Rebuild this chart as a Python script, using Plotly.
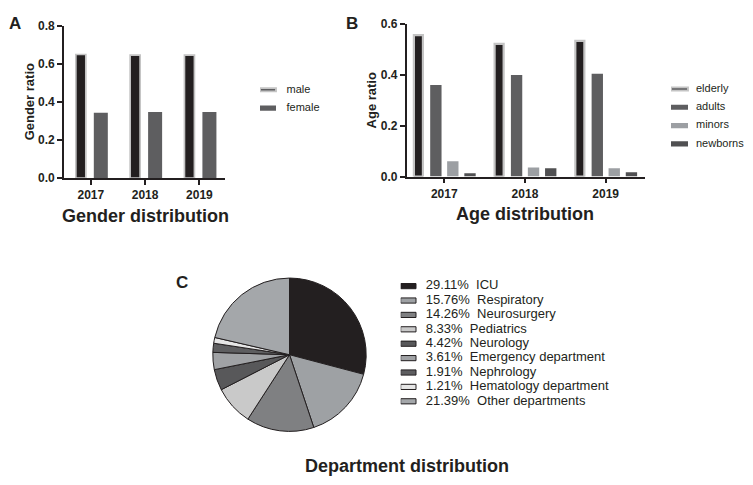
import plotly.graph_objects as go

# ---------------- data ----------------
years = ["2017", "2018", "2019"]
male = [0.650, 0.647, 0.647]
female = [0.344, 0.348, 0.348]

elderly = [0.556, 0.522, 0.534]
adults = [0.360, 0.399, 0.404]
minors = [0.060, 0.035, 0.033]
newborns = [0.013, 0.033, 0.017]

gender_names = ["male", "female"]
age_names = ["elderly", "adults", "minors", "newborns"]

departments = ["ICU", "Respiratory", "Neurosurgery", "Pediatrics", "Neurology",
               "Emergency department", "Nephrology", "Hematology department",
               "Other departments"]
dept_pct = [29.11, 15.76, 14.26, 8.33, 4.42, 3.61, 1.91, 1.21, 21.39]
dept_colors = ["#231f20", "#9ea1a4", "#7f8082", "#c9c9c9", "#58585a",
               "#a0a2a5", "#5e5e60", "#e6e6e6", "#a4a7aa"]

# ---------------- style ----------------
# page is 753x485 but the html body has an 8px margin -> visible figure area is smaller
PAGE_OFF = 8
W, H = 737, 477
FONT = "Liberation Sans, Arial, sans-serif"
INK = "#231f20"
DARK = "#231f20"
OUTL = "#c4c4c4"
MID = "#5e5e60"
LIGHT = "#9c9fa3"
NEWB = "#505052"


def px_x(v):
    return (v - PAGE_OFF) / W


def px_y(v):
    return (H - (v - PAGE_OFF)) / H


fig = go.Figure()

# ---------------- panel A ----------------
fig.add_trace(go.Bar(x=years, y=male, xaxis="x", yaxis="y", width=0.184, offset=-0.276,
                     marker=dict(color=DARK, line=dict(color=OUTL, width=1.7)),
                     showlegend=False, hoverinfo="skip"))
fig.add_trace(go.Bar(x=years, y=female, xaxis="x", yaxis="y", width=0.258, offset=0.055,
                     marker=dict(color=MID, line=dict(width=0)),
                     showlegend=False, hoverinfo="skip"))

# ---------------- panel B ----------------
fig.add_trace(go.Bar(x=years, y=elderly, xaxis="x2", yaxis="y2", width=0.112, offset=-0.376,
                     marker=dict(color=DARK, line=dict(color=OUTL, width=2.2)),
                     showlegend=False, hoverinfo="skip"))
fig.add_trace(go.Bar(x=years, y=adults, xaxis="x2", yaxis="y2", width=0.1406, offset=-0.174,
                     marker=dict(color=MID, line=dict(width=0)),
                     showlegend=False, hoverinfo="skip"))
fig.add_trace(go.Bar(x=years, y=minors, xaxis="x2", yaxis="y2", width=0.1406, offset=0.036,
                     marker=dict(color=LIGHT, line=dict(width=0)),
                     showlegend=False, hoverinfo="skip"))
fig.add_trace(go.Bar(x=years, y=newborns, xaxis="x2", yaxis="y2", width=0.1406, offset=0.249,
                     marker=dict(color=NEWB, line=dict(width=0)),
                     showlegend=False, hoverinfo="skip"))

# ---------------- panel C pie ----------------
fig.add_trace(go.Pie(labels=departments, values=dept_pct, sort=False, direction="clockwise",
                     rotation=0, textinfo="none", hoverinfo="skip", showlegend=False,
                     marker=dict(colors=dept_colors, line=dict(color=INK, width=1)),
                     domain=dict(x=[px_x(210.5), px_x(368.5)], y=[px_y(437), px_y(279)])))

# ---------------- custom legends ----------------
# legend A
fig.add_trace(go.Bar(y=gender_names, x=[16, 16], base=0, orientation="h", xaxis="x4", yaxis="y4",
                     width=[0.18, 0.28],
                     marker=dict(color=[MID, MID], line=dict(color=[OUTL, MID], width=[1.9, 0])),
                     showlegend=False, hoverinfo="skip"))
fig.add_trace(go.Scatter(y=gender_names, x=[26.5, 26.5], mode="text", text=gender_names,
                         textposition="middle right", xaxis="x4", yaxis="y4", cliponaxis=False,
                         textfont=dict(family=FONT, size=11, color=INK),
                         showlegend=False, hoverinfo="skip"))
# legend B
fig.add_trace(go.Bar(y=age_names, x=[17] * 4, base=0, orientation="h", xaxis="x5", yaxis="y5",
                     width=[0.18, 0.28, 0.28, 0.28],
                     marker=dict(color=[MID, MID, LIGHT, NEWB],
                                 line=dict(color=[OUTL, MID, LIGHT, NEWB], width=[1.9, 0, 0, 0])),
                     showlegend=False, hoverinfo="skip"))
fig.add_trace(go.Scatter(y=age_names, x=[25] * 4, mode="text", text=age_names,
                         textposition="middle right", xaxis="x5", yaxis="y5", cliponaxis=False,
                         textfont=dict(family=FONT, size=11, color=INK),
                         showlegend=False, hoverinfo="skip"))
# legend C
dept_labels = [f"{p:.2f}%\u00a0\u00a0{d}" for p, d in zip(dept_pct, departments)]
fig.add_trace(go.Bar(y=departments, x=[15.3] * len(departments), base=0, orientation="h",
                     xaxis="x3", yaxis="y3", width=0.36,
                     marker=dict(color=dept_colors, line=dict(color=INK, width=1)),
                     showlegend=False, hoverinfo="skip"))
fig.add_trace(go.Scatter(y=departments, x=[25] * len(departments), mode="text", text=dept_labels,
                         textposition="middle right", xaxis="x3", yaxis="y3", cliponaxis=False,
                         textfont=dict(family=FONT, size=13, color=INK),
                         showlegend=False, hoverinfo="skip"))

# ---------------- axes ----------------
axis_common = dict(showline=True, linecolor=INK, linewidth=1.6, ticks="outside", ticklen=5,
                   tickwidth=1.6, tickcolor=INK, showgrid=False, zeroline=False,
                   tickfont=dict(family=FONT, size=12, color=INK, weight="bold"))
hidden = dict(visible=False, showgrid=False, zeroline=False, fixedrange=True)

fig.update_layout(
    width=W, height=H, autosize=False,
    margin=dict(l=0, r=0, t=0, b=0),
    paper_bgcolor="white", plot_bgcolor="rgba(0,0,0,0)",
    barmode="overlay", showlegend=False,
    font=dict(family=FONT, color=INK),
    xaxis=dict(domain=[px_x(64), px_x(225)], range=[-0.494, 2.471], type="category",
               anchor="y", **axis_common),
    yaxis=dict(domain=[px_y(176), px_y(19.3)], range=[0, 0.8], tickvals=[0, 0.2, 0.4, 0.6, 0.8],
               tickformat=".1f", anchor="x", **axis_common),
    xaxis2=dict(domain=[px_x(406.7), px_x(645.3)], range=[-0.465, 2.491], type="category",
                anchor="y2", **axis_common),
    yaxis2=dict(domain=[px_y(174.4), px_y(17.3)], range=[0, 0.6], tickvals=[0, 0.2, 0.4, 0.6],
                tickformat=".1f", anchor="x2", **axis_common),
    xaxis3=dict(domain=[px_x(400.7), px_x(720)], range=[0, 319.3], anchor="y3", **hidden),
    yaxis3=dict(domain=[px_y(413.4), px_y(279.9)], range=[8.5, -0.5], type="category",
                anchor="x3", **hidden),
    xaxis4=dict(domain=[px_x(260), px_x(360)], range=[0, 100], anchor="y4", **hidden),
    yaxis4=dict(domain=[px_y(113.5), px_y(75.5)], range=[1.5, -0.5], type="category",
                anchor="x4", **hidden),
    xaxis5=dict(domain=[px_x(671), px_x(745)], range=[0, 74], anchor="y5", **hidden),
    yaxis5=dict(domain=[px_y(150.2), px_y(74.8)], range=[3.5, -0.5], type="category",
                anchor="x5", **hidden),
)


def ann(text, x, y, size, angle=0):
    fig.add_annotation(text=text, x=px_x(x), y=px_y(y), xref="paper", yref="paper",
                       xanchor="center", yanchor="middle", showarrow=False, textangle=angle,
                       font=dict(family=FONT, size=size, color=INK))


ann("<b>A</b>", 14.5, 16.5, 17)
ann("<b>B</b>", 352, 16.5, 17)
ann("<b>C</b>", 182, 284, 17)
ann("<b>Gender ratio</b>", 29, 98, 13, -90)
ann("<b>Age ratio</b>", 371, 96, 13, -90)
ann("<b>Gender distribution</b>", 145.5, 215, 18)
ann("<b>Age distribution</b>", 524.5, 212.7, 18)
ann("<b>Department distribution</b>", 406.5, 472.7, 18)

fig.write_html("out.html")
